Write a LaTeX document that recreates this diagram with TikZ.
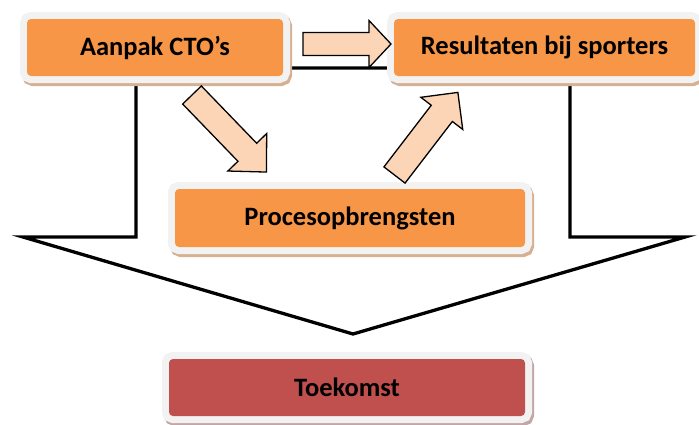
\documentclass[tikz,border=0pt]{standalone}
\usepackage{fontspec}
\setmainfont{Carlito}

\definecolor{oranje}{RGB}{247,150,70}
\definecolor{rood}{RGB}{192,80,77}
\definecolor{lijst}{RGB}{242,242,242}
\definecolor{schaduw}{RGB}{214,176,146}
\definecolor{schaduwrood}{RGB}{196,166,166}
\definecolor{pijlvul}{RGB}{251,213,181}

\newcommand{\BlokPijl}[6]{
\begin{scope}[shift={(#1)},rotate=#2]
\draw[Pijl] (0,-#4) -- (#3,-#4) -- (#3,-#6) -- ({#3+#5},0) -- (#3,#6) -- (#3,#4) -- (0,#4) -- cycle;
\end{scope}
}
\tikzset{every node/.style={font=\fontsize{26.5}{30}\selectfont\bfseries}}
\tikzset{Blok/.style 2 args={fill=#1,rounded corners=4pt,minimum height=57pt,inner sep=0pt,text=black,
  preaction={draw=#2,line width=14pt,transform canvas={shift={(2pt,-3pt)}}},
  preaction={draw=lijst,line width=14pt}}}
\tikzset{Pijl/.style={draw=black,fill=pijlvul,line width=1.3pt,line join=miter}}
\tikzset{Grootpijl/.style={draw=black,fill=white,line width=3.3pt,line join=miter}}

\begin{document}
\begin{tikzpicture}[x=1pt,y=-1pt]

\useasboundingbox (0,0) rectangle (699,424);

% grote pijl naar beneden
\draw[Grootpijl] (136,68) -- (570,68) -- (570,237) -- (685,237) -- (353,334) -- (23,237) -- (136,237) -- cycle;

\node[Blok={oranje}{schaduw},minimum width=256pt] (Aanpak) at (155,47.5) {Aanpak CTO’s};
\node[Blok={oranje}{schaduw},minimum width=301pt] (Resultaten) at (544.5,47.5) {Resultaten bij sporters\hspace{8pt}};
\node[Blok={oranje}{schaduw},minimum width=350pt,minimum height=58pt] (Proces) at (350,218) {Procesopbrengsten};
\node[Blok={rood}{schaduwrood},minimum width=356pt] (Toekomst) at (347,387.5) {Toekomst};

\coordinate (p1) at (303,44);
\coordinate (p2) at (192,95);
\coordinate (p3) at (394.5,175);

\BlokPijl{p1}{0}{66}{11.5}{22}{23.5}
\BlokPijl{p2}{-46}{79.6}{13}{27.5}{27}
\BlokPijl{p3}{52.5}{77.7}{13.3}{26.4}{26.4}

\end{tikzpicture}
\end{document}
